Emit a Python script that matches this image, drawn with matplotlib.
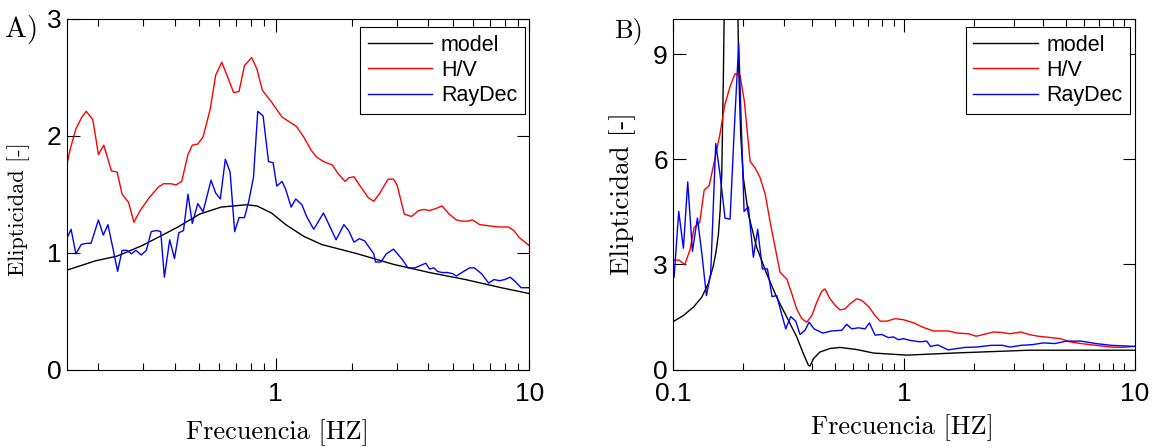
import numpy as np
import matplotlib
matplotlib.use("Agg")
import matplotlib.pyplot as plt
from matplotlib.ticker import FixedLocator, LogLocator, NullFormatter, FormatStrFormatter

# ---- Panel A data (frequency in Hz, ellipticity) ----
fa_hv = [0.150, 0.155, 0.163, 0.172, 0.179, 0.190, 0.200, 0.210, 0.225, 0.237,
         0.248, 0.263, 0.276, 0.292, 0.317, 0.344, 0.361, 0.386, 0.405, 0.426,
         0.451, 0.469, 0.493, 0.517, 0.552, 0.580, 0.613, 0.650, 0.683, 0.717,
         0.753, 0.804, 0.844, 0.886, 0.962, 1.060, 1.114, 1.208, 1.290, 1.377,
         1.446, 1.543, 1.674, 1.758, 1.877, 1.939, 2.036, 2.138, 2.320, 2.436,
         2.558, 2.776, 2.915, 3.011, 3.215, 3.430, 3.662, 3.846, 4.039, 4.311,
         4.528, 4.831, 5.159, 5.417, 5.689, 5.974, 6.377, 6.917, 7.627, 8.276,
         8.691, 9.126, 10.0]
ea_hv = [1.75, 1.89, 2.06, 2.16, 2.21, 2.14, 1.84, 1.92, 1.70, 1.69,
         1.50, 1.43, 1.26, 1.36, 1.47, 1.56, 1.59, 1.59, 1.58, 1.61,
         1.84, 1.92, 1.93, 1.99, 2.23, 2.52, 2.63, 2.49, 2.37, 2.38,
         2.60, 2.67, 2.57, 2.39, 2.29, 2.16, 2.13, 2.08, 1.99, 1.88,
         1.82, 1.78, 1.75, 1.68, 1.61, 1.64, 1.65, 1.58, 1.47, 1.44,
         1.50, 1.63, 1.63, 1.58, 1.33, 1.31, 1.36, 1.37, 1.36, 1.38,
         1.40, 1.33, 1.28, 1.27, 1.27, 1.28, 1.24, 1.23, 1.22, 1.22,
         1.19, 1.13, 1.06]

fa_rd = [0.150, 0.156, 0.163, 0.171, 0.179, 0.187, 0.200, 0.209, 0.218, 0.228,
         0.238, 0.248, 0.259, 0.270, 0.281, 0.295, 0.309, 0.323, 0.339, 0.352,
         0.364, 0.382, 0.399, 0.415, 0.433, 0.451, 0.469, 0.493, 0.517, 0.556,
         0.580, 0.605, 0.633, 0.661, 0.689, 0.717, 0.753, 0.783, 0.817, 0.850,
         0.892, 0.937, 0.977, 1.010, 1.060, 1.096, 1.151, 1.200, 1.269, 1.324,
         1.413, 1.543, 1.647, 1.730, 1.858, 1.939, 2.036, 2.138, 2.245, 2.436,
         2.476, 2.600, 2.731, 2.915, 3.162, 3.321, 3.545, 3.723, 3.909, 4.039,
         4.213, 4.339, 4.528, 4.754, 4.993, 5.159, 5.417, 5.821, 6.073, 6.481,
         6.917, 7.264, 7.627, 8.012, 8.413, 8.837, 9.278, 10.0]
ea_rd = [1.12, 1.20, 0.99, 1.07, 1.08, 1.08, 1.28, 1.15, 1.24, 1.04,
         0.84, 1.02, 1.02, 0.99, 1.02, 0.98, 1.02, 1.18, 1.19, 1.18,
         0.79, 1.11, 0.95, 1.17, 1.19, 1.50, 1.25, 1.42, 1.35, 1.62,
         1.51, 1.46, 1.80, 1.69, 1.18, 1.30, 1.30, 1.44, 1.64, 2.21,
         2.17, 1.78, 1.77, 1.57, 1.61, 1.54, 1.39, 1.46, 1.41, 1.31,
         1.20, 1.34, 1.21, 1.11, 1.24, 1.19, 1.09, 1.12, 1.10, 0.99,
         0.92, 0.92, 0.99, 1.03, 0.94, 0.87, 0.87, 0.89, 0.91, 0.86,
         0.87, 0.84, 0.83, 0.83, 0.82, 0.80, 0.83, 0.87, 0.87, 0.82,
         0.74, 0.77, 0.76, 0.77, 0.79, 0.75, 0.70, 0.70]

fa_mod = [0.150, 0.1945, 0.2366, 0.297, 0.350, 0.412, 0.501, 0.609, 0.765, 0.844,
          0.962, 1.096, 1.290, 1.518, 2.104, 2.915, 4.039, 5.6, 7.76, 10.0]
ea_mod = [0.85, 0.93, 0.97, 1.06, 1.14, 1.22, 1.33, 1.39, 1.41, 1.40,
          1.34, 1.24, 1.14, 1.07, 0.99, 0.90, 0.83, 0.77, 0.70, 0.65]

# ---- Panel B data ----
fb_hv = [0.101, 0.106, 0.112, 0.118, 0.123, 0.130, 0.136, 0.143, 0.152, 0.159,
         0.167, 0.176, 0.185, 0.1945, 0.203, 0.215, 0.226, 0.237, 0.250, 0.262,
         0.276, 0.290, 0.310, 0.326, 0.342, 0.360, 0.378, 0.398, 0.418, 0.439,
         0.454, 0.477, 0.502, 0.527, 0.554, 0.582, 0.623, 0.655, 0.700, 0.748,
         0.786, 0.840, 0.913, 0.992, 1.10, 1.21, 1.34, 1.45, 1.55, 1.70,
         1.90, 2.05, 2.21, 2.43, 2.61, 2.87, 3.21, 3.46, 3.80, 4.33,
         4.75, 5.22, 5.84, 6.78, 7.87, 8.81, 10.0]
eb_hv = [3.12, 3.12, 2.99, 3.41, 4.05, 4.19, 5.12, 5.25, 6.07, 6.70,
         7.55, 8.07, 8.44, 8.39, 7.65, 5.94, 5.75, 5.49, 5.00, 4.24,
         3.48, 2.77, 2.58, 2.16, 1.73, 1.45, 1.35, 1.54, 1.92, 2.23,
         2.30, 2.02, 1.83, 1.70, 1.73, 1.87, 2.02, 1.97, 1.80, 1.54,
         1.38, 1.38, 1.45, 1.42, 1.33, 1.20, 1.10, 1.10, 1.10, 1.04,
         1.02, 0.95, 1.00, 1.07, 1.06, 1.02, 1.07, 1.00, 0.95, 0.91,
         0.88, 0.79, 0.74, 0.69, 0.64, 0.63, 0.66]

fb_rd = [0.1007, 0.1055, 0.1105, 0.1154, 0.1209, 0.1271, 0.1327, 0.1390, 0.1451, 0.1526,
         0.1593, 0.1674, 0.1760, 0.1837, 0.1919, 0.2024, 0.2113, 0.2221, 0.2319, 0.2430,
         0.2555, 0.2676, 0.2804, 0.2928, 0.3067, 0.3224, 0.3388, 0.3538, 0.3719, 0.3872,
         0.4069, 0.4436, 0.4853, 0.5362, 0.5636, 0.5925, 0.6333, 0.6767, 0.7066, 0.7478,
         0.7991, 0.8539, 0.8980, 0.9438, 0.992, 1.060, 1.171, 1.252, 1.30, 1.40,
         1.55, 1.70, 1.83, 2.05, 2.38, 2.66, 2.87, 3.21, 3.59, 4.02,
         4.49, 5.03, 5.84, 6.78, 7.87, 10.0]
eb_rd = [2.63, 4.51, 3.46, 5.35, 3.37, 4.32, 3.34, 2.11, 2.73, 6.45,
         5.56, 4.32, 4.29, 6.89, 9.30, 4.51, 4.64, 3.20, 4.00, 2.87,
         2.87, 2.08, 2.11, 1.64, 1.16, 1.51, 1.38, 1.00, 1.12, 1.35,
         1.16, 1.04, 1.10, 1.12, 1.29, 1.16, 1.19, 1.16, 1.33, 0.98,
         1.00, 0.91, 0.93, 0.85, 0.88, 0.83, 0.79, 0.81, 0.66, 0.70,
         0.56, 0.60, 0.63, 0.64, 0.69, 0.69, 0.64, 0.69, 0.71, 0.76,
         0.74, 0.81, 0.81, 0.74, 0.69, 0.66]

fb_mod = [0.1007, 0.1105, 0.1221, 0.1327, 0.1418, 0.1490, 0.1530, 0.1567, 0.1595, 0.1620,
          0.1647, 0.1663, 0.178, 0.1900, 0.1919, 0.1957, 0.2010, 0.2113, 0.2297, 0.2537,
          0.2804, 0.3097, 0.3423, 0.3658, 0.3846, 0.3910, 0.4044, 0.4319, 0.4775, 0.5275,
          0.6227, 0.7355, 0.8685, 1.026, 1.638, 3.459, 10.0]
eb_mod = [1.38, 1.54, 1.78, 2.06, 2.46, 2.96, 3.35, 3.86, 4.55, 5.56,
          8.40, 10.5, 40.0, 10.5, 8.59, 6.70, 5.47, 4.43, 3.48, 2.73,
          2.06, 1.50, 0.93, 0.45, 0.12, 0.10, 0.31, 0.50, 0.60, 0.63,
          0.57, 0.47, 0.44, 0.41, 0.47, 0.55, 0.55]

plt.rcParams['font.family'] = 'Liberation Sans'
plt.rcParams['axes.unicode_minus'] = False

fig = plt.figure(figsize=(11.65, 4.48), dpi=100)
axA = fig.add_axes([0.0573, 0.1752, 0.397, 0.7824])
axB = fig.add_axes([0.578, 0.1752, 0.3963, 0.7824])

# ax, model, H/V, RayDec, xlim, ylim, yticks, xticks, ylabel size, ylabel y, xlabel x, xlabel y
panels = [
    (axA, fa_mod, ea_mod, fa_hv, ea_hv, fa_rd, ea_rd, (0.15, 10), (0, 3), [0, 1, 2, 3], [1, 10],
     16, 0.458, 0.455, -0.141),
    (axB, fb_mod, eb_mod, fb_hv, eb_hv, fb_rd, eb_rd, (0.1, 10), (0, 10), [0, 3, 6, 9], [0.1, 1, 10],
     19.5, 0.502, 0.496, -0.127),
]

for ax, fm, em, fh, eh, fr, er, xl, yl, yt, xt, ysz, ypos, xlx, xly in panels:
    ax.plot(fm, em, color='black', lw=1.0, label='model')
    ax.plot(fh, eh, color='#ff0000', lw=1.0, label='H/V')
    ax.plot(fr, er, color='#0000ff', lw=1.0, label='RayDec')
    ax.set_xscale('log')
    ax.set_xlim(*xl)
    ax.set_ylim(*yl)
    ax.xaxis.set_major_locator(FixedLocator(xt))
    ax.xaxis.set_major_formatter(FormatStrFormatter('%g'))
    ax.xaxis.set_minor_locator(LogLocator(base=10, subs=np.arange(2, 10)))
    ax.xaxis.set_minor_formatter(NullFormatter())
    ax.yaxis.set_major_locator(FixedLocator(yt))
    ax.yaxis.set_major_formatter(FormatStrFormatter('%g'))
    ax.tick_params(which='both', direction='in', top=True, right=True, width=0.8, labelsize=19)
    ax.tick_params(which='major', length=9)
    ax.tick_params(which='minor', length=4.8)
    ax.tick_params(axis='x', pad=9)
    ax.tick_params(axis='y', pad=4)
    for s in ax.spines.values():
        s.set_linewidth(0.8)
    ax.set_xlabel('Frecuencia [HZ]', fontsize=19, family='cmr10')
    ax.set_ylabel('Elipticidad [-]', fontsize=ysz, family='cmr10')
    ax.xaxis.set_label_coords(xlx, xly)
    ax.yaxis.set_label_coords(-0.08, ypos)
    leg = ax.legend(loc='upper right', bbox_to_anchor=(0.99, 0.977), borderaxespad=0,
                    fontsize=15.5, handlelength=3.0, handletextpad=0.4, labelspacing=0.2,
                    borderpad=0.35, fancybox=False, framealpha=1, edgecolor='black')
    leg.get_frame().set_linewidth(0.8)

fig.text(22 / 1165, 1 - 30 / 448, 'A)', fontsize=21, family='cmr10', ha='center', va='center')
fig.text(629 / 1165, 1 - 31 / 448, 'B)', fontsize=19, family='cmr10', ha='center', va='center')

fig.savefig('out.png', dpi=100)
